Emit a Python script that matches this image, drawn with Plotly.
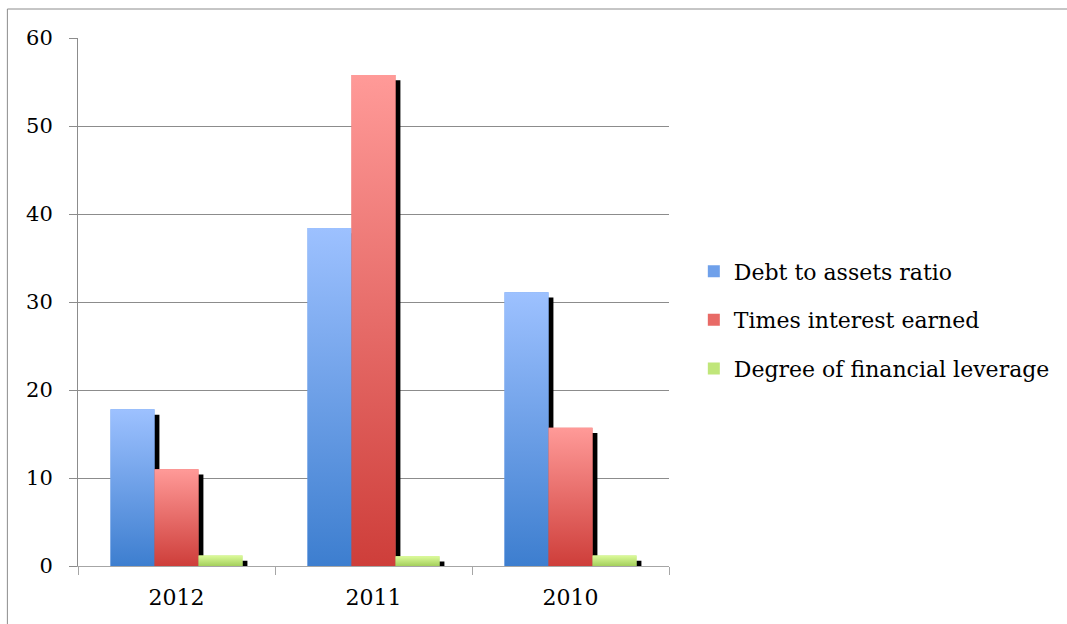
import plotly.graph_objects as go

years = ["2012", "2011", "2010"]
debt_to_assets = [17.8, 38.4, 31.1]
times_interest = [11.0, 55.8, 15.7]
degree_fin_leverage = [1.2, 1.1, 1.2]
series_names = ["Debt to assets ratio", "Times interest earned", "Degree of financial leverage"]
y_ticks = [0, 10, 20, 30, 40, 50, 60]

series_values = [debt_to_assets, times_interest, degree_fin_leverage]
# (mid, bottom, top) colors
series_colors = [
    ("#6FA0EA", "#3D7ECF", "#9DC1FF"),
    ("#E86A66", "#CE3E3A", "#FF9A98"),
    ("#C0E67A", "#A4CF5C", "#DCFB9A"),
]
bar_w = 0.2233
offsets = [-0.335, -0.1117, 0.1117]
shadow_dx = 0.025
shadow_dy = 0.6

xs = list(range(len(years)))
fig = go.Figure()

# shadows
for vals, off in zip(series_values, offsets):
    fig.add_trace(go.Bar(
        x=xs, y=[v - shadow_dy + 0.2 for v in vals], base=-0.2,
        offset=off + shadow_dx, width=bar_w,
        marker=dict(color="black", line=dict(width=0)),
        showlegend=False, hoverinfo="skip"))

# main bars
for name, vals, off, cols in zip(series_names, series_values, offsets, series_colors):
    fig.add_trace(go.Bar(
        x=xs, y=vals, offset=off, width=bar_w, name=name,
        legendgroup=name,
        marker=dict(color=cols[0], line=dict(width=0))))

# gradient overlay on each bar
for vals, off, cols in zip(series_values, offsets, series_colors):
    for i, v in zip(xs, vals):
        x0, x1 = i + off, i + off + bar_w
        fig.add_trace(go.Scatter(
            x=[x0, x1, x1, x0, x0], y=[0, 0, v, v, 0],
            mode="lines", line=dict(width=0), fill="toself",
            fillgradient=dict(type="vertical", start=0, stop=v,
                              colorscale=[[0, cols[1]], [1, cols[2]]]),
            showlegend=False, hoverinfo="skip"))

font_family = "DejaVu Serif"
fig.update_layout(
    width=1067, height=624,
    margin=dict(l=78, r=395, t=38, b=58),
    paper_bgcolor="white", plot_bgcolor="white",
    barmode="overlay",
    font=dict(family=font_family, size=21, color="black"),
    legend=dict(x=1.042, y=0.466, xanchor="left", yanchor="middle",
                font=dict(family=font_family, size=22),
                tracegroupgap=17, bgcolor="rgba(0,0,0,0)"),
    xaxis=dict(range=[-0.5, 2.5], tickvals=xs, ticktext=years, ticks="",
               showline=True, linecolor="#A6A6A6", linewidth=1,
               showgrid=False, zeroline=False, ticklabelstandoff=12,
               tickfont=dict(size=22),
               minor=dict(tickvals=[-0.5, 0.5, 1.5, 2.5], ticks="outside",
                          ticklen=8, tickcolor="#A6A6A6", showgrid=False)),
    yaxis=dict(range=[0, 60], tickvals=y_ticks, ticks="outside", ticklen=8,
               tickcolor="#8C8C8C", showline=True, linecolor="#8C8C8C",
               gridcolor="#8C8C8C", gridwidth=1, zeroline=False,
               ticklabelstandoff=12, tickfont=dict(size=21)),
    shapes=[dict(type="rect", xref="paper", yref="paper",
                 x0=-0.1195, x1=1.75, y0=-0.25, y1=1.0549,
                 line=dict(color="#8C8C8C", width=1), layer="below")],
)

fig.write_html("out.html")
